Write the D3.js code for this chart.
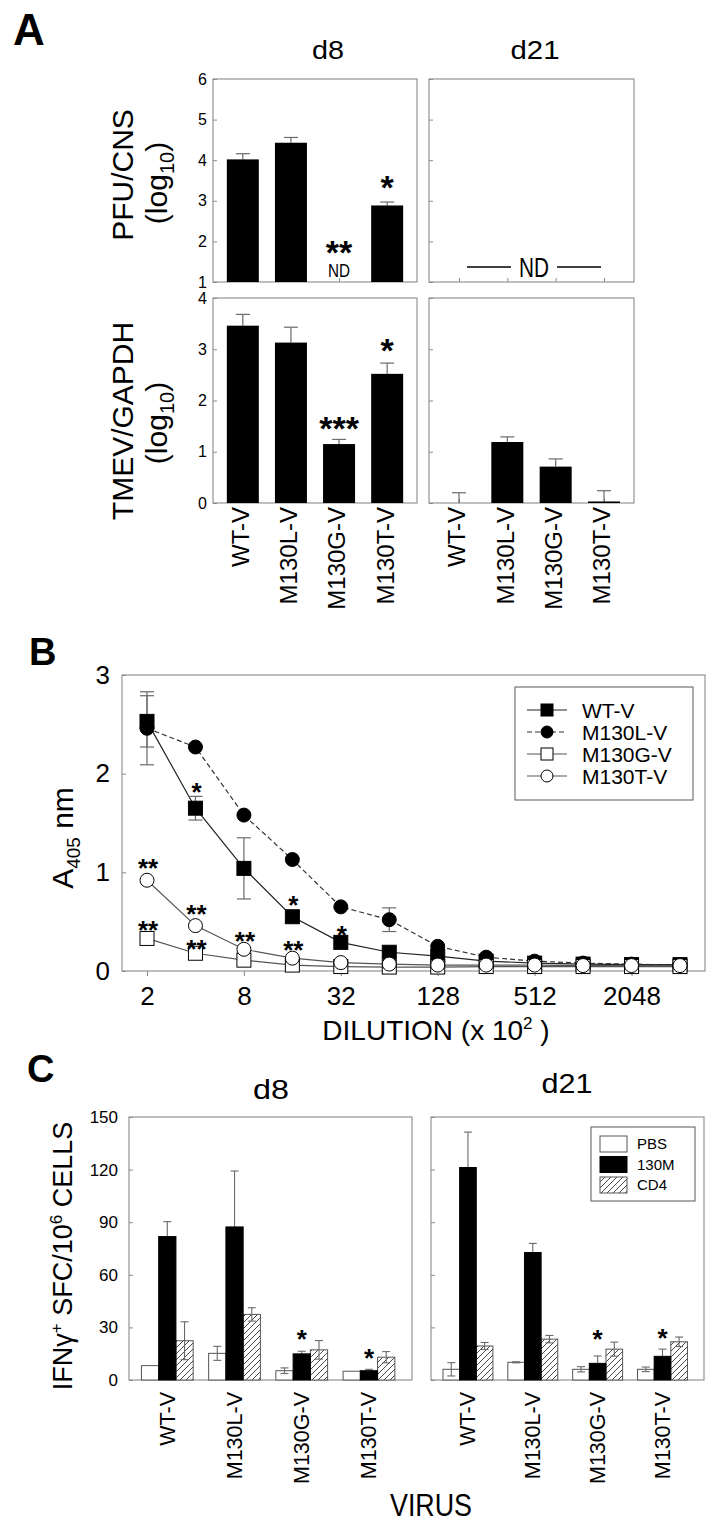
<!DOCTYPE html>
<html><head><meta charset="utf-8">
<script src="https://cdn.jsdelivr.net/npm/d3@7"></script>
<style>body{margin:0;background:#fff} svg{display:block}</style>
</head><body><svg id="c" width="718" height="1525"></svg>
<script>
// ---------------- DATA ----------------
const viruses = ["WT-V","M130L-V","M130G-V","M130T-V"];
// Panel A – PFU/CNS (log10)
const pfuTicks = [1,2,3,4,5,6];
const pfuD8 = [4.02, 4.43, null, 2.885];
const pfuD8Err = [0.14, 0.13, null, 0.085];
const pfuD8Stars = ["", "", "**", "*"];
const pfuD8StarY = [null, null, 1.92, 3.51];
const pfuD21 = [null, null, null, null];
// Panel A – TMEV/GAPDH (log10)
const tmevTicks = [0,1,2,3,4];
const tmevD8 = [3.46, 3.13, 1.15, 2.52];
const tmevD8Err = [0.22, 0.30, 0.09, 0.21];
const tmevD8Stars = ["", "", "***", "*"];
const tmevD8StarY = [null, null, 1.60, 3.12];
const tmevD21 = [0, 1.19, 0.71, 0.03];
const tmevD21Err = [0.20, 0.10, 0.15, 0.21];
// Panel B – ELISA
const dilutions = [2,4,8,16,32,64,128,256,512,1024,2048,4096];
const dilutionTicks = [2,8,32,128,512,2048];
const absTicks = [0,1,2,3];
const wtV    = [2.53,1.65,1.04,0.55,0.29,0.19,0.15,0.10,0.08,0.07,0.065,0.065];
const wtVErr = [0.26,0.12,0.31,0,0,0,0,0,0,0,0,0];
const m130L    = [2.46,2.27,1.58,1.13,0.65,0.52,0.25,0.14,0.10,0.08,0.07,0.06];
const m130LErr = [0.37,0,0,0,0,0.12,0,0,0,0,0,0];
const m130G = [0.33,0.18,0.11,0.06,0.045,0.04,0.04,0.045,0.045,0.045,0.045,0.045];
const m130T = [0.92,0.46,0.22,0.13,0.085,0.07,0.06,0.06,0.06,0.055,0.055,0.055];
const starsBx = [4, 2, 2, 4, 4, 8, 16, 16, 32];
const starsBy = [1.87, 1.105, 0.476, 0.64, 0.287, 0.365, 0.73, 0.274, 0.426];
const starsBt = ["*","**","**","**","**","**","*","**","*"];
// Panel C – ELISPOT
const conds = ["PBS","130M","CD4"];
const sfcTicks = [0,30,60,90,120,150];
const d8PBS = [8.2, 15.2, 5.3, 5.0];
const d8PBSErr = [0, 4.0, 1.6, 0];
const d8M = [81.8, 87.3, 14.9, 5.3];
const d8MErr = [8.5, 31.9, 1.5, 0.8];
const d8CD4 = [22.4, 37.4, 17.2, 13.0];
const d8CD4Err = [10.8, 3.8, 5.3, 3.2];
const d8StarY = [null, null, 26.8, 15.9];
const d21PBS = [6.1, 10.1, 6.1, 6.1];
const d21PBSErr = [3.8, 0.3, 1.5, 1.3];
const d21M = [121.2, 72.7, 9.5, 13.5];
const d21MErr = [20.2, 5.2, 4.2, 4.1];
const d21CD4 = [19.4, 23.3, 17.6, 21.8];
const d21CD4Err = [2.0, 2.1, 4.0, 2.7];
const d21StarY = [null, null, 26.8, 27.3];

// ---------------- DRAW ----------------
const FONT = '"Liberation Sans", Arial, Helvetica, sans-serif';
const BOX = "#8a8a8a", ERR = "#6a6a6a";
const INT = d3.format("d");
const svg = d3.select("#c").attr("font-family", FONT);
svg.append("rect").attr("width",718).attr("height",1525).attr("fill","#fff");

const defs = svg.append("defs");
const pat = defs.append("pattern").attr("id","hatch").attr("patternUnits","userSpaceOnUse")
  .attr("width",6).attr("height",6);
pat.append("rect").attr("width",6).attr("height",6).attr("fill","#fff");
pat.append("path").attr("d","M-1,1 l2,-2 M0,6 l6,-6 M5,7 l2,-2").attr("stroke","#333").attr("stroke-width",0.9);

function txt(x, y, s, fs, opts = {}) {
  const t = svg.append("text").attr("x", x).attr("y", y).attr("font-size", fs)
    .attr("text-anchor", opts.anchor || "middle").text(s);
  if (opts.bold) t.attr("font-weight", "bold");
  if (opts.len) t.attr("textLength", opts.len).attr("lengthAdjust", "spacingAndGlyphs");
  return t;
}
function box(x0, x1, y0, y1) {
  svg.append("rect").attr("x",x0).attr("y",y0).attr("width",x1-x0).attr("height",y1-y0)
    .attr("fill","none").attr("stroke",BOX).attr("stroke-width",1.1);
}
function starBaseline(cy, fs) { return cy + 0.57*fs; }

// Panel labels
txt(13, 45, "A", 44, {anchor:"start", bold:true});
txt(29, 665, "B", 38, {anchor:"start", bold:true});
txt(27, 1082, "C", 38, {anchor:"start", bold:true});

// ---- Panel A ----
txt(328, 59, "d8", 26, {len:32});
txt(535, 59, "d21", 26, {len:49});

function barPanel(o) {
  const xs = d3.scalePoint().domain(viruses).range([o.x0, o.x1]).padding(0.62);
  const [yb, yt] = o.y.range();
  box(o.x0, o.x1, yt, yb);
  const ax = d3.axisLeft(o.y).tickValues(o.ticks).tickSize(-4).tickPadding(6)
    .tickFormat(o.tickLabels ? INT : "");
  const a = svg.append("g").attr("transform", `translate(${o.x0},0)`).call(ax)
    .attr("font-family", FONT).attr("font-size", 16);
  a.select(".domain").remove();
  a.selectAll("line").attr("stroke", BOX);
  const bxa = svg.append("g").attr("transform", `translate(0,${yb})`)
    .call(d3.axisBottom(xs).tickSize(-4).tickFormat(""));
  bxa.select(".domain").remove();
  bxa.selectAll("line").attr("stroke", BOX);
  const rows = viruses.map((v,i) => ({v, val:o.vals[i], err:o.errs ? o.errs[i] : null,
    star:o.stars ? o.stars[i] : "", sy:o.starY ? o.starY[i] : null}));
  const base = o.y.domain()[0];
  const eg = svg.append("g").attr("stroke", ERR).attr("stroke-width", 1.2);
  rows.filter(d => d.val != null && d.err).forEach(d => {
    const cx = xs(d.v), ytop = o.y(d.val + d.err);
    eg.append("line").attr("x1",cx).attr("x2",cx).attr("y1",o.y(d.val)).attr("y2",ytop);
    eg.append("line").attr("x1",cx-7).attr("x2",cx+7).attr("y1",ytop).attr("y2",ytop);
  });
  svg.append("g").selectAll("rect").data(rows.filter(d => d.val != null && d.val > base)).join("rect")
    .attr("x", d => xs(d.v) - 16).attr("width", 32)
    .attr("y", d => o.y(d.val)).attr("height", d => o.y(base) - o.y(d.val)).attr("fill", "#000");
  rows.filter(d => d.star).forEach(d => {
    txt(xs(d.v), starBaseline(o.y(d.sy), 34), d.star, 34, {bold:true});
  });
  if (o.labels) {
    svg.append("g").selectAll("text").data(viruses).join("text")
      .attr("transform", v => `translate(${xs(v)-2},507) rotate(-90)`)
      .attr("text-anchor","end").attr("dy","0.35em").attr("font-size",24).text(v => v);
  }
  return xs;
}

const yPfu = d3.scaleLinear().domain([1,6]).range([282,79]);
const xsP = barPanel({x0:213, x1:417, y:yPfu, ticks:pfuTicks, vals:pfuD8, errs:pfuD8Err,
  stars:pfuD8Stars, starY:pfuD8StarY, tickLabels:true});
txt(xsP("M130G-V"), 277, "ND", 19, {len:22});
barPanel({x0:429, x1:634, y:yPfu, ticks:pfuTicks, vals:pfuD21, tickLabels:false});
txt(534, 277, "ND", 28, {len:30});
svg.append("line").attr("x1",467).attr("x2",511).attr("y1",267).attr("y2",267).attr("stroke","#000").attr("stroke-width",1.6);
svg.append("line").attr("x1",557).attr("x2",601).attr("y1",267).attr("y2",267).attr("stroke","#000").attr("stroke-width",1.6);

const yTmev = d3.scaleLinear().domain([0,4]).range([503,298]);
barPanel({x0:213, x1:417, y:yTmev, ticks:tmevTicks, vals:tmevD8, errs:tmevD8Err,
  stars:tmevD8Stars, starY:tmevD8StarY, tickLabels:true, labels:true});
barPanel({x0:429, x1:634, y:yTmev, ticks:tmevTicks, vals:tmevD21, errs:tmevD21Err,
  tickLabels:false, labels:true});

function rotText(x, y, fs) {
  return svg.append("text").attr("transform", `translate(${x},${y}) rotate(-90)`)
    .attr("text-anchor","middle").attr("font-size", fs);
}
function logLabel(x, y) {
  const t = rotText(x, y, 30);
  t.append("tspan").text("(log");
  t.append("tspan").attr("font-size",20).attr("dy",7).text("10");
  t.append("tspan").attr("dy",-7).text(")");
}
rotText(133, 175, 30).text("PFU/CNS");
logLabel(167, 183);
rotText(133, 421, 30).text("TMEV/GAPDH");
logLabel(167, 423);

// ---- Panel B ----
const xB = d3.scaleLog().base(2).domain([2,4096]).range([147,680]);
const yB = d3.scaleLinear().domain([0,3]).range([971,675]);
box(122, 705, 675, 971);
{
  const a = svg.append("g").attr("transform","translate(122,0)")
    .call(d3.axisLeft(yB).tickValues(absTicks).tickSize(-4).tickPadding(12).tickFormat(INT))
    .attr("font-family",FONT).attr("font-size",26);
  a.select(".domain").remove(); a.selectAll("line").attr("stroke",BOX);
  const b = svg.append("g").attr("transform","translate(0,971)")
    .call(d3.axisBottom(xB).tickValues(dilutionTicks).tickFormat(INT).tickSize(5).tickPadding(10.5))
    .attr("font-family",FONT).attr("font-size",26);
  b.select(".domain").remove(); b.selectAll("line").attr("stroke",BOX);
}
const seriesB = [
  {name:"WT-V", vals:wtV, errs:wtVErr, shape:"square", fill:"#000", dash:null, stroke:"#222"},
  {name:"M130L-V", vals:m130L, errs:m130LErr, shape:"circle", fill:"#000", dash:"5,3", stroke:"#333"},
  {name:"M130G-V", vals:m130G, errs:null, shape:"square", fill:"#fff", dash:null, stroke:"#555"},
  {name:"M130T-V", vals:m130T, errs:null, shape:"circle", fill:"#fff", dash:null, stroke:"#555"}
];
const lineB = d3.line().x(d => xB(d.d)).y(d => yB(d.v));
seriesB.forEach(s => {
  svg.append("path").datum(dilutions.map((d,i) => ({d, v:s.vals[i]})))
    .attr("d", lineB).attr("fill","none").attr("stroke", s.stroke).attr("stroke-width",1.2)
    .attr("stroke-dasharray", s.dash);
});
seriesB.forEach(s => {
  if (!s.errs) return;
  dilutions.forEach((d,i) => {
    const e = s.errs[i]; if (!e) return;
    const cx = xB(d), y1 = yB(s.vals[i]+e), y2 = yB(s.vals[i]-e);
    const g = svg.append("g").attr("stroke",ERR).attr("stroke-width",1.2);
    g.append("line").attr("x1",cx).attr("x2",cx).attr("y1",y1).attr("y2",y2);
    g.append("line").attr("x1",cx-7).attr("x2",cx+7).attr("y1",y1).attr("y2",y1);
    g.append("line").attr("x1",cx-7).attr("x2",cx+7).attr("y1",y2).attr("y2",y2);
  });
});
function marker(g, shape, cx, cy, fill, size) {
  if (shape === "square")
    return g.append("rect").attr("x",cx-size/2).attr("y",cy-size/2).attr("width",size).attr("height",size)
      .attr("fill",fill).attr("stroke","#000").attr("stroke-width",1);
  return g.append("circle").attr("cx",cx).attr("cy",cy).attr("r",size/2)
    .attr("fill",fill).attr("stroke","#000").attr("stroke-width",1);
}
seriesB.forEach(s => {
  const g = svg.append("g");
  dilutions.forEach((d,i) => marker(g, s.shape, xB(d), yB(s.vals[i]), s.fill, 14));
});
starsBx.forEach((xv,i) => txt(xB(xv)+1, starBaseline(yB(starsBy[i]), 26), starsBt[i], 26, {bold:true}));
// legend
svg.append("rect").attr("x",515).attr("y",687).attr("width",178).attr("height",113)
  .attr("fill","#fff").attr("stroke","#666").attr("stroke-width",1.1);
seriesB.forEach((s,i) => {
  const ly = 710 + i*22;
  svg.append("line").attr("x1",527).attr("x2",567).attr("y1",ly).attr("y2",ly)
    .attr("stroke",s.stroke).attr("stroke-width",1.1).attr("stroke-dasharray", s.dash);
  marker(svg, s.shape, 547, ly, s.fill, 12);
  svg.append("text").attr("x",582).attr("y",ly).attr("dy","0.36em").attr("font-size",21).text(s.name);
});
{
  const t = rotText(73, 838, 30);
  t.append("tspan").text("A");
  t.append("tspan").attr("font-size",19).attr("dy",7).text("405");
  t.append("tspan").attr("dy",-7).text(" nm");
  const d = txt(436, 1040, "", 28);
  d.append("tspan").text("DILUTION (x 10");
  d.append("tspan").attr("font-size",17).attr("dy",-11).text("2");
  d.append("tspan").attr("dy",11).text(" )");
}

// ---- Panel C ----
txt(271, 1099, "d8", 28, {len:36});
txt(567, 1093, "d21", 28, {len:51});
const yC = d3.scaleLinear().domain([0,150]).range([1380,1117]);
function cPanel(x0, x1, data, starY, tickLabels) {
  const gx = d3.scaleBand().domain(viruses).range([x0,x1]).paddingInner(0.23).paddingOuter(0.22).align(0.42);
  const bx = d3.scaleBand().domain(conds).range([0, gx.bandwidth()]);
  box(x0, x1, 1117, 1380);
  const ax = d3.axisLeft(yC).tickValues(sfcTicks).tickSize(-4).tickPadding(11)
    .tickFormat(tickLabels ? INT : "");
  const a = svg.append("g").attr("transform",`translate(${x0},0)`).call(ax)
    .attr("font-family",FONT).attr("font-size",17);
  a.select(".domain").remove(); a.selectAll("line").attr("stroke",BOX);
  const rows = [];
  viruses.forEach((v,i) => conds.forEach((c,j) => rows.push({v, c, val:data[j][0][i], err:data[j][1][i]})));
  const fillFor = c => c === "PBS" ? "#fff" : c === "CD4" ? "url(#hatch)" : "#000";
  const drawBars = sel => svg.append("g").selectAll("rect").data(sel).join("rect")
    .attr("x", d => gx(d.v) + bx(d.c)).attr("width", bx.bandwidth())
    .attr("y", d => yC(d.val)).attr("height", d => yC(0) - yC(d.val))
    .attr("fill", d => fillFor(d.c)).attr("stroke", d => d.c === "130M" ? "#000" : "#555").attr("stroke-width",1);
  drawBars(rows.filter(d => d.c !== "130M"));
  const eg = svg.append("g").attr("stroke",ERR).attr("stroke-width",1.1);
  rows.filter(d => d.err).forEach(d => {
    const cx = gx(d.v) + bx(d.c) + bx.bandwidth()/2, y1 = yC(d.val + d.err), y2 = yC(Math.max(0, d.val - d.err));
    eg.append("line").attr("x1",cx).attr("x2",cx).attr("y1",y1).attr("y2",y2);
    eg.append("line").attr("x1",cx-4).attr("x2",cx+4).attr("y1",y1).attr("y2",y1);
    eg.append("line").attr("x1",cx-4).attr("x2",cx+4).attr("y1",y2).attr("y2",y2);
  });
  drawBars(rows.filter(d => d.c === "130M"));
  viruses.forEach((v,i) => {
    if (starY[i] == null) return;
    txt(gx(v) + bx("130M") + bx.bandwidth()/2, starBaseline(yC(starY[i]), 26), "*", 26, {bold:true});
  });
  svg.append("g").selectAll("text").data(viruses).join("text")
    .attr("transform", v => `translate(${gx(v)+gx.bandwidth()/2},1392) rotate(-90)`)
    .attr("text-anchor","end").attr("dy","0.35em").attr("font-size",21.5).text(v => v);
}
cPanel(129, 412, [[d8PBS,d8PBSErr],[d8M,d8MErr],[d8CD4,d8CD4Err]], d8StarY, true);
cPanel(431, 704, [[d21PBS,d21PBSErr],[d21M,d21MErr],[d21CD4,d21CD4Err]], d21StarY, false);
// legend C
svg.append("rect").attr("x",591).attr("y",1127).attr("width",104).attr("height",74)
  .attr("fill","#fff").attr("stroke","#666").attr("stroke-width",1.1);
conds.forEach((c,i) => {
  const ly = 1136 + i*20.5;
  svg.append("rect").attr("x",600).attr("y",ly).attr("width",27).attr("height",16)
    .attr("fill", c === "PBS" ? "#fff" : c === "CD4" ? "url(#hatch)" : "#000")
    .attr("stroke", c === "130M" ? "#000" : "#555");
  svg.append("text").attr("x",637).attr("y",ly+8).attr("dy","0.36em").attr("font-size",15).text(c);
});
{
  const t = rotText(72, 1256, 27);
  t.append("tspan").text("IFN\u03B3");
  t.append("tspan").attr("font-size",17).attr("dy",-10).text("+");
  t.append("tspan").attr("dy",10).text(" SFC/10");
  t.append("tspan").attr("font-size",17).attr("dy",-10).text("6");
  t.append("tspan").attr("dy",10).text(" CELLS");
}
txt(431, 1516, "VIRUS", 32, {len:82});
</script></body></html>
